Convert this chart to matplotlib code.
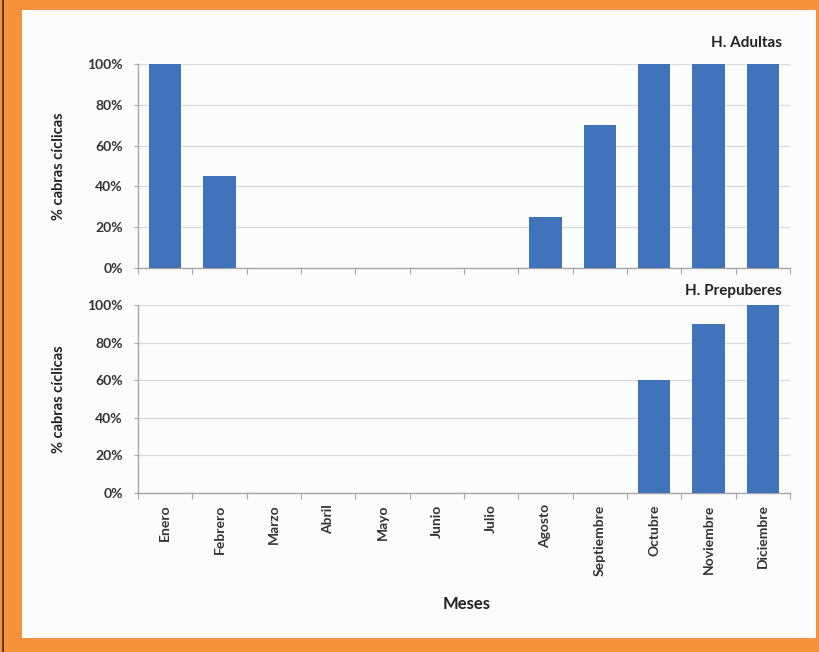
import matplotlib.pyplot as plt
from matplotlib.patches import Rectangle
from matplotlib.ticker import FixedLocator, PercentFormatter

# Datos: porcentaje de cabras cíclicas por mes
meses = ['Enero', 'Febrero', 'Marzo', 'Abril', 'Mayo', 'Junio', 'Julio',
         'Agosto', 'Septiembre', 'Octubre', 'Noviembre', 'Diciembre']
adultas = [100, 45, 0, 0, 0, 0, 0, 25, 70, 100, 100, 100]
prepuberes = [0, 0, 0, 0, 0, 0, 0, 0, 0, 60, 90, 100]

plt.rcParams['font.family'] = ['Lato', 'DejaVu Sans']

azul = '#3F74BA'
naranja = '#F7923A'
gris = '#A6A6A6'

fig = plt.figure(figsize=(8.19, 6.52), dpi=100)
fig.patch.set_facecolor(naranja)

# Panel blanco y línea oscura del borde izquierdo (detrás de los ejes)
fig.patches.append(Rectangle((22 / 819, 1 - 638 / 652), (816 - 22) / 819, (638 - 10) / 652,
                             transform=fig.transFigure, facecolor='#FCFCFC', edgecolor='none', zorder=-5))
fig.patches.append(Rectangle((2 / 819, 0), 1.5 / 819, 1, transform=fig.transFigure,
                             facecolor='#5A3A20', edgecolor='none', zorder=-5))

ax1 = fig.add_axes([138 / 819, 1 - 268 / 652, 652 / 819, 204 / 652])
ax2 = fig.add_axes([138 / 819, 1 - 493 / 652, 652 / 819, 188 / 652])

x = range(len(meses))
for ax, valores, titulo, y_tit in [(ax1, adultas, 'H. Adultas', 43),
                                    (ax2, prepuberes, 'H. Prepuberes', 291)]:
    ax.set_facecolor('none')
    ax.bar(x, valores, width=0.6, color=azul, zorder=3)
    ax.set_xlim(-0.5, len(meses) - 0.5)
    ax.set_ylim(0, 100)
    ax.set_yticks(range(0, 101, 20))
    ax.yaxis.set_major_formatter(PercentFormatter(decimals=0))
    ax.grid(axis='y', color='#DADADA', linewidth=0.9, zorder=0)
    for s in ['top', 'right']:
        ax.spines[s].set_visible(False)
    for s in ['left', 'bottom']:
        ax.spines[s].set_color(gris)
        ax.spines[s].set_linewidth(1.0)
    ax.tick_params(axis='y', length=3, color=gris, labelsize=10, pad=8)
    for lbl in ax.get_yticklabels():
        lbl.set_fontweight('bold')
        lbl.set_color('#333333')
    ax.xaxis.set_major_locator(FixedLocator([i - 0.5 for i in range(len(meses) + 1)]))
    ax.tick_params(axis='x', length=4, color=gris, labelbottom=False)
    ax.set_ylabel('% cabras cíclicas', fontsize=10.5, fontweight='bold', color='#222222')
    pos = ax.get_position()
    ax.yaxis.set_label_coords(66 / 819, pos.y0 + pos.height / 2, transform=fig.transFigure)
    fig.text(782 / 819, 1 - y_tit / 652, titulo, ha='right', va='center',
             fontsize=11, fontweight='bold', color='#222222')

# Etiquetas de los meses, giradas
for i, mes in enumerate(meses):
    ax2.text(i, -6, mes, rotation=90, ha='center', va='top', fontsize=10,
             fontweight='bold', color='#333333', clip_on=False)

fig.text(467 / 819, 1 - 604 / 652, 'Meses', ha='center', va='center',
         fontsize=12, fontweight='bold', color='#222222')

fig.savefig('out.png', dpi=100, facecolor=fig.get_facecolor())
